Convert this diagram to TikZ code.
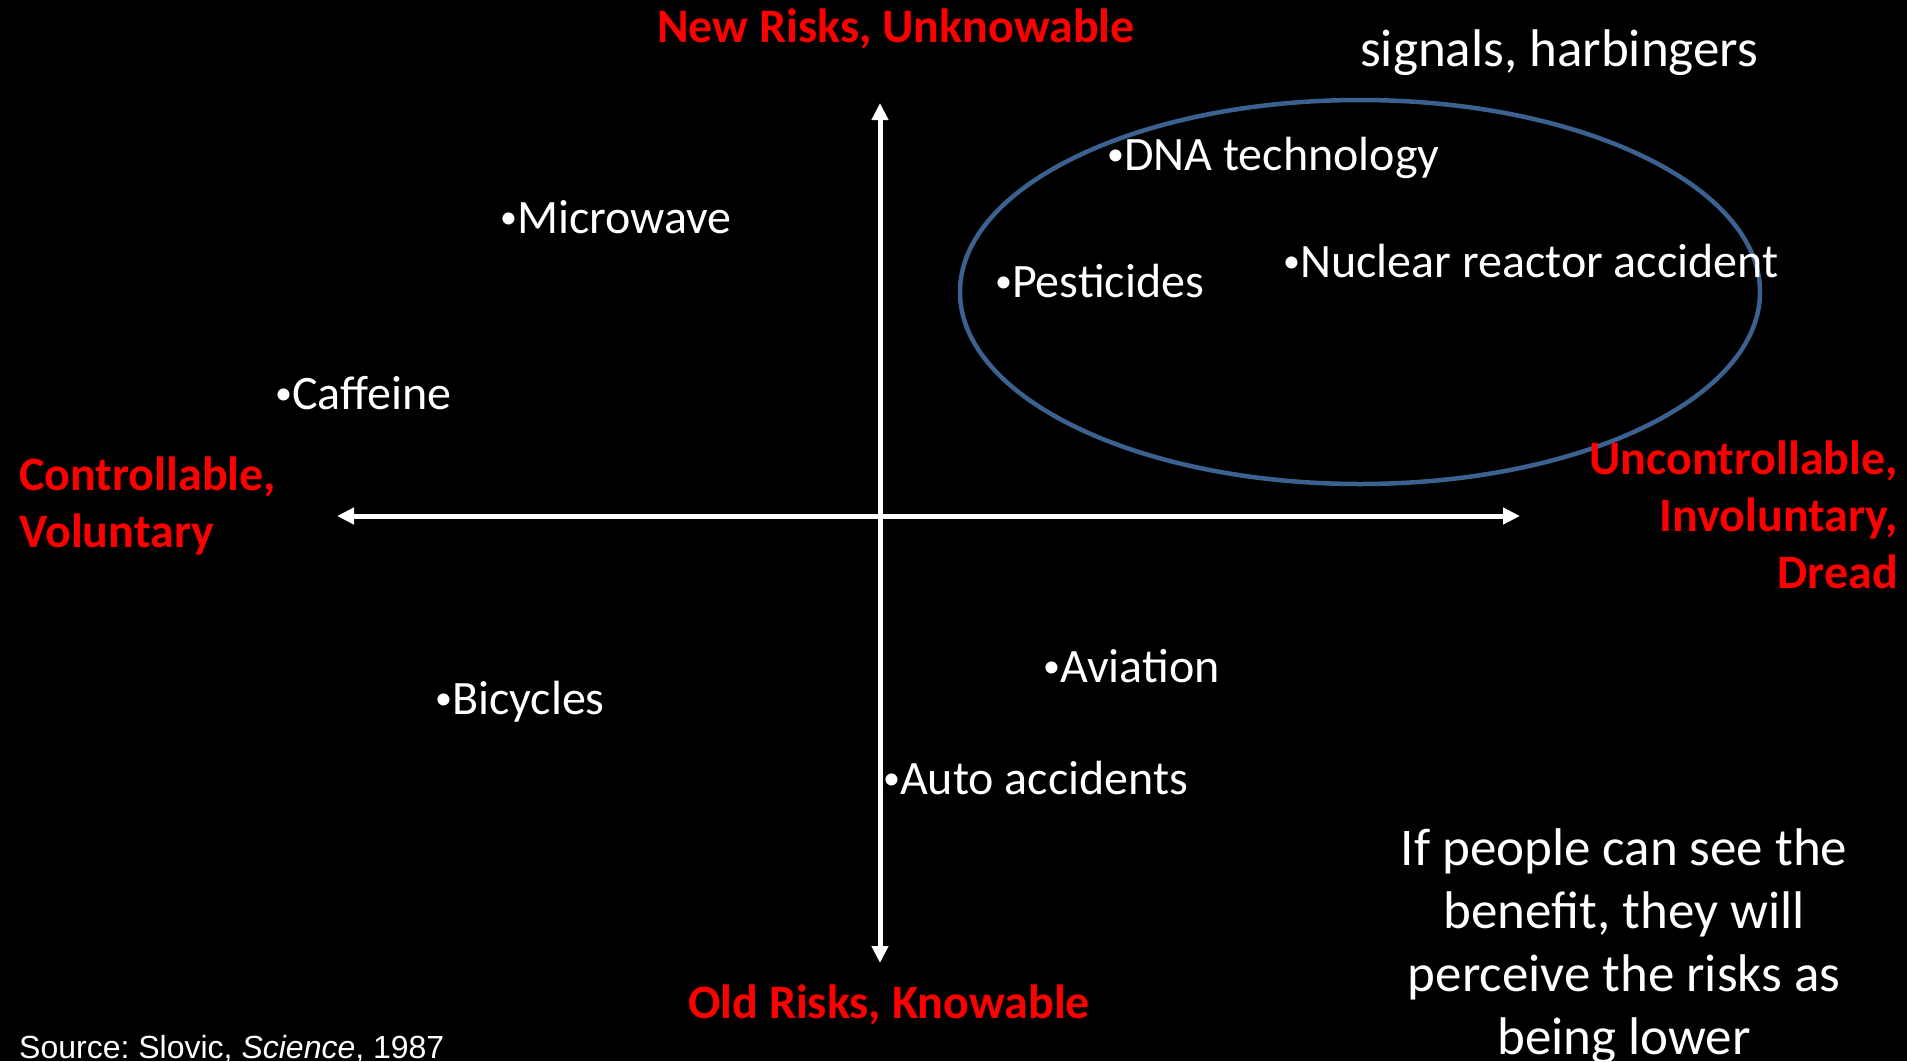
\documentclass[tikz,border=0pt]{standalone}
\usepackage{fontspec}
\setmainfont{Carlito}
\newfontfamily\arialfont{Liberation Sans}
\usetikzlibrary{arrows.meta,shapes.geometric}
\definecolor{ellblue}{HTML}{3B6190}
\definecolor{labred}{HTML}{FF0000}
\newcommand{\smallbul}{\raisebox{5pt}{\fontsize{34}{34}\selectfont •}}
\begin{document}
\begin{tikzpicture}[x=1pt,y=-1pt,
  item/.style={anchor=base west, inner sep=0pt, text=white, font=\fontsize{48}{58}\selectfont},
  redlab/.style={inner sep=0pt, text=labred, font=\fontsize{48}{58}\selectfont\bfseries},
  note/.style={anchor=base, inner sep=0pt, text=white, font=\fontsize{53}{65}\selectfont},
  axisline/.style={white, line width=5pt, {Triangle[length=17pt,width=16pt]}-{Triangle[length=17pt,width=16pt]}},
  ring/.style={draw=ellblue, line width=4.5pt, ellipse, inner sep=0pt}]
\fill[black] (0,0) rectangle (1907,1061);
\useasboundingbox (0,0) rectangle (1907,1061);
% axes
\coordinate (top) at (880,103);
\coordinate (bot) at (880,963);
\coordinate (lft) at (337,516);
\coordinate (rgt) at (1520,516);
\draw[axisline] (lft) -- (rgt);
\draw[axisline] (bot) -- (top);
% ellipse
\node[ring, minimum width=800pt, minimum height=384pt] (oval) at (1360,292) {};
% items
\node[item] (mw) at (500,233) {\smallbul Microwave};
\node[item] (dna) at (1107,170) {\smallbul DNA technology};
\node[item] (pest) at (995,297) {\smallbul Pesticides};
\node[item] (nuc) at (1283,277) {\smallbul Nuclear reactor accident};
\node[item] (caf) at (275,409) {\smallbul Caffeine};
\node[item] (bic) at (435,714) {\smallbul Bicycles};
\node[item] (avi) at (1043,682) {\smallbul Aviation};
\node[item] (auto) at (883,794) {\smallbul Auto accidents};
% red labels
\node[redlab, anchor=base] (newr) at (896,42) {New Risks, Unknowable};
\node[redlab, anchor=base] (oldr) at (889,1018) {Old Risks, Knowable};
\node[redlab, anchor=base west] (ctl1) at (19,490) {Controllable,};
\node[redlab, anchor=base west] (ctl2) at (19,547) {Voluntary};
\node[redlab, anchor=base east] (unc1) at (1898,474) {Uncontrollable,};
\node[redlab, anchor=base east] (unc2) at (1898,531) {Involuntary,};
\node[redlab, anchor=base east] (unc3) at (1898,588) {Dread};
% notes
\node[note, anchor=base west] (sig) at (1360,66) {signals, harbingers};
\node[note] (p1) at (1624,865) {If people can see the};
\node[note] (p2) at (1624,928) {benefit, they will};
\node[note] (p3) at (1624,991) {perceive the risks as};
\node[note] (p4) at (1624,1054) {being lower};
% source
\node[anchor=base west, inner sep=0pt, text=white, font=\arialfont\fontsize{32}{38}\selectfont] (src) at (19,1058) {\frenchspacing Source: Slovic, \textit{Science}, 1987};
\end{tikzpicture}
\end{document}
